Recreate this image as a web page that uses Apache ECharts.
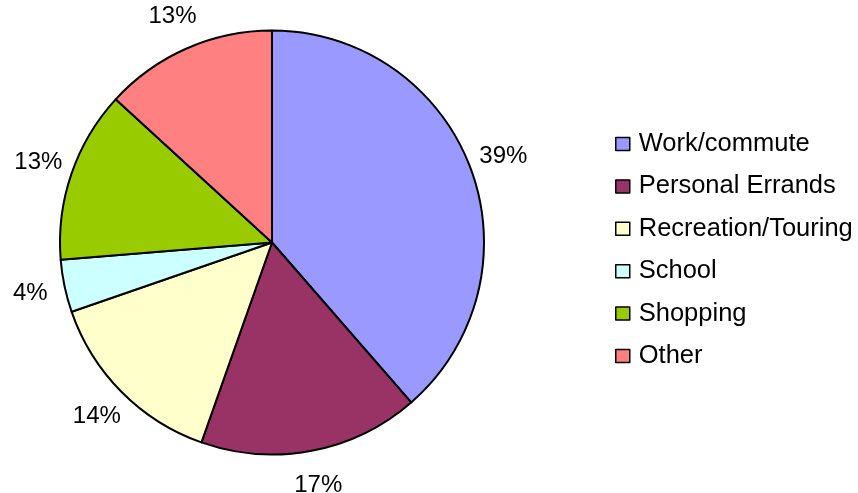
<!DOCTYPE html>
<html>
<head>
<meta charset="utf-8">
<script src="https://cdn.jsdelivr.net/npm/echarts@6/dist/echarts.min.js"></script>
<style>
  html, body { margin: 0; padding: 0; background: #fff; }
  #chart { width: 858px; height: 493px; }
</style>
</head>
<body>
<div id="chart"></div>
<script>
// trip purpose shares (labels are rounded)
var categories = ['Work/commute', 'Personal Errands', 'Recreation/Touring', 'School', 'Shopping', 'Other'];
var shares = [38.6, 16.8, 14.3, 4.0, 13.1, 13.2];
var palette = ['#9999FF', '#993366', '#FFFFCC', '#CCFFFF', '#99CC00', '#FF8080'];

var font = 'Liberation Sans, Arial, sans-serif';

var pieData = categories.map(function (name, i) {
  return { name: name, value: shares[i] };
});

var chart = echarts.init(document.getElementById('chart'));
chart.setOption({
  animation: false,
  color: palette,
  legend: {
    orient: 'vertical',
    left: 615,
    top: 131,
    padding: 0,
    itemWidth: 14,
    itemHeight: 13,
    itemGap: 16.4,
    icon: 'rect',
    itemStyle: { borderColor: '#000', borderWidth: 1.5 },
    textStyle: {
      fontFamily: font,
      fontSize: 25.5,
      lineHeight: 25,
      color: '#000',
      padding: [0, 0, 0, 4]
    },
    data: categories
  },
  series: [
    {
      // the slices
      type: 'pie',
      center: [272, 242.5],
      radius: [0, 212],
      startAngle: 90,
      clockwise: true,
      percentPrecision: 0,
      itemStyle: { borderColor: '#000', borderWidth: 2 },
      label: { show: false },
      labelLine: { show: false },
      emphasis: { disabled: true },
      data: pieData
    },
    {
      // invisible ring, only used to place the % labels outside the pie
      type: 'pie',
      center: [272, 242.5],
      radius: [0, 488],
      startAngle: 90,
      clockwise: true,
      percentPrecision: 0,
      silent: true,
      z: 1,
      itemStyle: { color: 'rgba(0,0,0,0)', borderWidth: 0 },
      label: {
        show: true,
        position: 'inside',
        formatter: '{d}%',
        fontFamily: font,
        fontSize: 24,
        color: '#000'
      },
      labelLine: { show: false },
      emphasis: { disabled: true },
      data: pieData
    }
  ]
});
</script>
</body>
</html>
